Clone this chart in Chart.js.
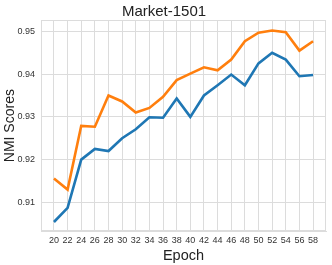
<!DOCTYPE html>
<html>
<head>
<meta charset="utf-8">
<script src="https://cdn.jsdelivr.net/npm/chart.js@4"></script>
<style>
  html, body { margin: 0; padding: 0; background: #fff; }
  #wrap { width: 332px; height: 265px; }
</style>
</head>
<body>
<div id="wrap"><canvas id="nmiChart" width="332" height="265"></canvas></div>
<script>
// ===== DATA =====
const epochs = [20,22,24,26,28,30,32,34,36,38,40,42,44,46,48,50,52,54,56,58];
const blueScores = [0.9054,0.9087,0.9200,0.9225,0.9220,0.9250,0.9271,0.9299,0.9298,0.9343,
                    0.9300,0.9350,0.9374,0.9399,0.9374,0.9425,0.9450,0.9434,0.9395,0.9398];
const orangeScores = [0.9156,0.9130,0.9279,0.9277,0.9350,0.9336,0.9310,0.9321,0.9347,0.9386,
                      0.9401,0.9416,0.9409,0.9434,0.9477,0.9497,0.9502,0.9498,0.9455,0.9477];
const yTicks = [0.91,0.92,0.93,0.94,0.95];

const FONT = 'Liberation Sans, Arial, sans-serif';
const gridColor = '#dcdcdc';

// frame round the plot area (top and right spines)
const framePlugin = {
  id: 'frame',
  beforeDatasetsDraw(chart) {
    const a = chart.chartArea, c = chart.ctx;
    c.save();
    c.strokeStyle = gridColor;
    c.lineWidth = 1;
    c.strokeRect(Math.round(a.left) + 0.5, Math.round(a.top) + 0.5,
                 Math.round(a.right - a.left) - 1, Math.round(a.bottom - a.top) - 1);
    c.restore();
  }
};

const toPts = arr => arr.map((v, i) => ({ x: epochs[i], y: v }));

new Chart(document.getElementById('nmiChart'), {
  type: 'line',
  data: {
    datasets: [
      {
        label: 'blue',
        data: toPts(blueScores),
        borderColor: '#1f77b4',
        borderWidth: 2.6,
        pointRadius: 0,
        tension: 0,
        fill: false
      },
      {
        label: 'orange',
        data: toPts(orangeScores),
        borderColor: '#ff7f0e',
        borderWidth: 2.6,
        pointRadius: 0,
        tension: 0,
        fill: false
      }
    ]
  },
  plugins: [framePlugin],
  options: {
    responsive: false,
    animation: false,
    layout: { padding: { left: 2, right: 6, top: 0, bottom: 0 } },
    plugins: {
      legend: { display: false },
      tooltip: { enabled: false },
      title: {
        display: true,
        text: 'Market-1501',
        color: '#222',
        font: { family: FONT, size: 15, weight: 'normal', lineHeight: 1.15 },
        padding: { top: 3, bottom: 0 }
      }
    },
    scales: {
      x: {
        type: 'linear',
        min: 18.1,
        max: 59.9,
        afterBuildTicks: s => { s.ticks = epochs.map(v => ({ value: v })); },
        afterFit: s => { s.height = 34; },
        grid: { color: gridColor, drawTicks: false },
        border: { color: gridColor },
        ticks: { color: '#333', font: { family: FONT, size: 9 }, padding: 4, maxRotation: 0, autoSkip: false },
        title: {
          display: true,
          text: 'Epoch',
          color: '#222',
          font: { family: FONT, size: 14.5 },
          padding: { top: -1, bottom: 0 }
        }
      },
      y: {
        min: 0.9033,
        max: 0.9526,
        afterBuildTicks: s => { s.ticks = yTicks.map(v => ({ value: v })); },
        afterFit: s => { s.width = 39; },
        grid: { color: gridColor, drawTicks: false },
        border: { color: gridColor },
        ticks: { color: '#333', font: { family: FONT, size: 9 }, padding: 6, callback: v => v.toFixed(2) },
        title: {
          display: true,
          text: 'NMI Scores',
          color: '#222',
          font: { family: FONT, size: 14 },
          padding: { top: 0, bottom: 0 }
        }
      }
    }
  }
});
</script>
</body>
</html>
